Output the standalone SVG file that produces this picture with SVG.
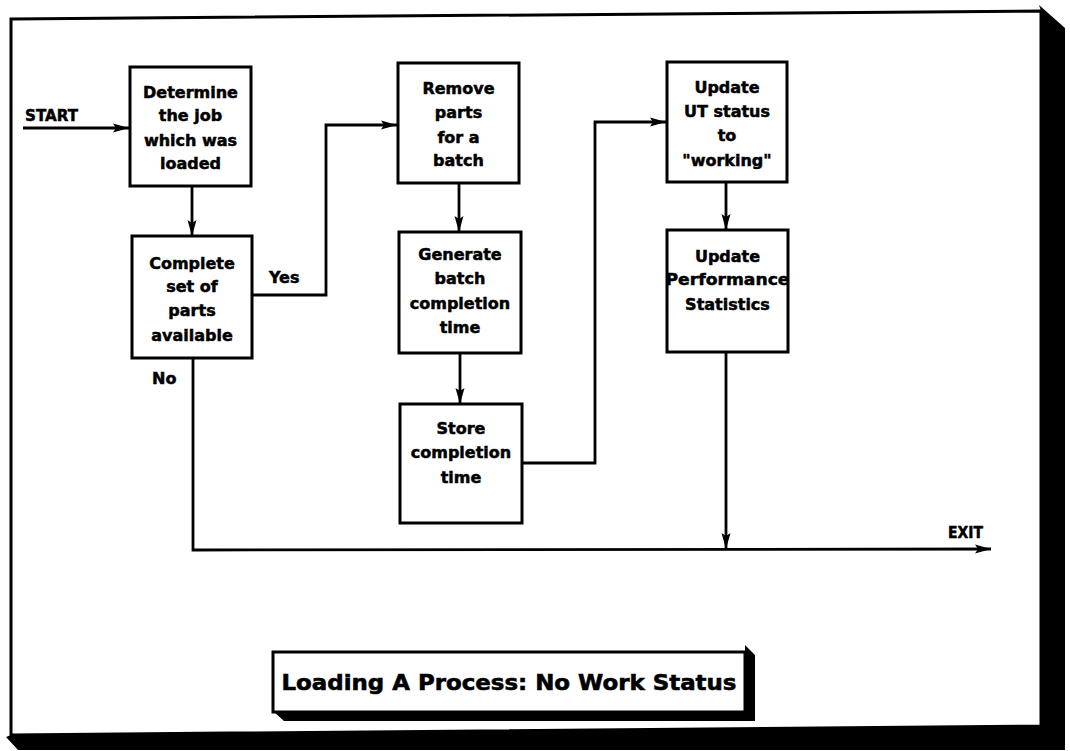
<svg xmlns="http://www.w3.org/2000/svg" width="1070" height="751" viewBox="0 0 1070 751">
  <style>
    .frame { fill: #fff; stroke: #000; stroke-width: 3; stroke-linejoin: miter; }
    .shadow { fill: #000; stroke: none; }
    .box { fill: #fff; stroke: #000; stroke-width: 3; }
    .wire { fill: none; stroke: #000; stroke-width: 2.8; stroke-linejoin: miter; }
    .lbl { font-family: "DejaVu Sans", "Liberation Sans", sans-serif; font-weight: bold; font-size: 16px; fill: #000; stroke: #000; stroke-width: 0.5; text-anchor: middle; }
    .side { font-family: "DejaVu Sans", "Liberation Sans", sans-serif; font-weight: bold; font-size: 16px; fill: #000; stroke: #000; stroke-width: 0.5; }
    .title { font-family: "DejaVu Sans", "Liberation Sans", sans-serif; font-weight: bold; font-size: 22px; fill: #000; stroke: #000; stroke-width: 0.6; text-anchor: middle; }
  </style>
  <defs>
    <marker id="arrow" markerUnits="userSpaceOnUse" markerWidth="16" markerHeight="10" refX="16" refY="5" orient="auto">
      <path d="M0,0.5 L16,5 L0,9.5 L3,5 Z" fill="#000"/>
    </marker>
  </defs>

  <rect width="1070" height="751" fill="#fff"/>

  <!-- page frame with drop shadow -->
  <g id="page">
    <polygon class="shadow" points="1039,5 1065,28 1065,750 18,750 6,737 11,735 1041,726 1041,11"/>
    <polygon class="frame" points="11,19 1041,11 1041,726 11,735"/>
  </g>

  <!-- connectors -->
  <g id="connectors">
    <line class="wire" x1="23" y1="128" x2="129" y2="128" marker-end="url(#arrow)"/>
    <line class="wire" x1="192" y1="186" x2="192" y2="236" marker-end="url(#arrow)"/>
    <polyline class="wire" points="253,295 326,295 326,125 397,125" marker-end="url(#arrow)"/>
    <line class="wire" x1="459" y1="183" x2="459" y2="232" marker-end="url(#arrow)"/>
    <line class="wire" x1="460" y1="353" x2="460" y2="404" marker-end="url(#arrow)"/>
    <polyline class="wire" points="522,463 595,463 595,122 666,122" marker-end="url(#arrow)"/>
    <line class="wire" x1="726" y1="182" x2="726" y2="230" marker-end="url(#arrow)"/>
    <line class="wire" x1="726" y1="352" x2="726" y2="549" marker-end="url(#arrow)"/>
    <polyline class="wire" points="193,358 193,550 991,549" marker-end="url(#arrow)"/>
  </g>

  <!-- edge labels -->
  <g id="labels">
    <text class="side" x="25" y="121" textLength="53" lengthAdjust="spacingAndGlyphs">START</text>
    <text class="side" x="269" y="283">Yes</text>
    <text class="side" x="152" y="384">No</text>
    <text class="side" x="948" y="538" textLength="35" lengthAdjust="spacingAndGlyphs">EXIT</text>
  </g>

  <g id="determine-job">
    <rect class="box" x="130" y="67" width="121" height="119"/>
    <text class="lbl" x="190.5" y="98">Determine</text>
    <text class="lbl" x="190.5" y="121">the job</text>
    <text class="lbl" x="190.5" y="146">which was</text>
    <text class="lbl" x="190.5" y="169">loaded</text>
  </g>

  <g id="parts-available">
    <rect class="box" x="132" y="236" width="120" height="122"/>
    <text class="lbl" x="192" y="269">Complete</text>
    <text class="lbl" x="192" y="292">set of</text>
    <text class="lbl" x="192" y="316">parts</text>
    <text class="lbl" x="192" y="341">available</text>
  </g>

  <g id="remove-parts">
    <rect class="box" x="398" y="63" width="121" height="120"/>
    <text class="lbl" x="458.5" y="94">Remove</text>
    <text class="lbl" x="458.5" y="118">parts</text>
    <text class="lbl" x="458.5" y="143">for a</text>
    <text class="lbl" x="458.5" y="166">batch</text>
  </g>

  <g id="generate-time">
    <rect class="box" x="399" y="232" width="122" height="121"/>
    <text class="lbl" x="460" y="260">Generate</text>
    <text class="lbl" x="460" y="284">batch</text>
    <text class="lbl" x="460" y="309">completion</text>
    <text class="lbl" x="460" y="333">time</text>
  </g>

  <g id="store-time">
    <rect class="box" x="400" y="404" width="122" height="119"/>
    <text class="lbl" x="461" y="434">Store</text>
    <text class="lbl" x="461" y="458">completion</text>
    <text class="lbl" x="461" y="483">time</text>
  </g>

  <g id="update-status">
    <rect class="box" x="667" y="62" width="120" height="120"/>
    <text class="lbl" x="727" y="93">Update</text>
    <text class="lbl" x="727" y="117">UT status</text>
    <text class="lbl" x="727" y="141">to</text>
    <text class="lbl" x="727" y="166">"working"</text>
  </g>

  <g id="update-stats">
    <rect class="box" x="667" y="230" width="121" height="122"/>
    <text class="lbl" x="727.5" y="262">Update</text>
    <text class="lbl" x="727.5" y="285" textLength="124" lengthAdjust="spacingAndGlyphs">Performance</text>
    <text class="lbl" x="727.5" y="310">Statistics</text>
  </g>

  <!-- caption plate -->
  <g id="caption">
    <polygon class="shadow" points="745,645 755,655 755,721 284,721 274,712 745,712"/>
    <rect class="box" x="273" y="652" width="472" height="60"/>
    <text class="title" x="509" y="690" textLength="455" lengthAdjust="spacingAndGlyphs">Loading A Process: No Work Status</text>
  </g>
</svg>
